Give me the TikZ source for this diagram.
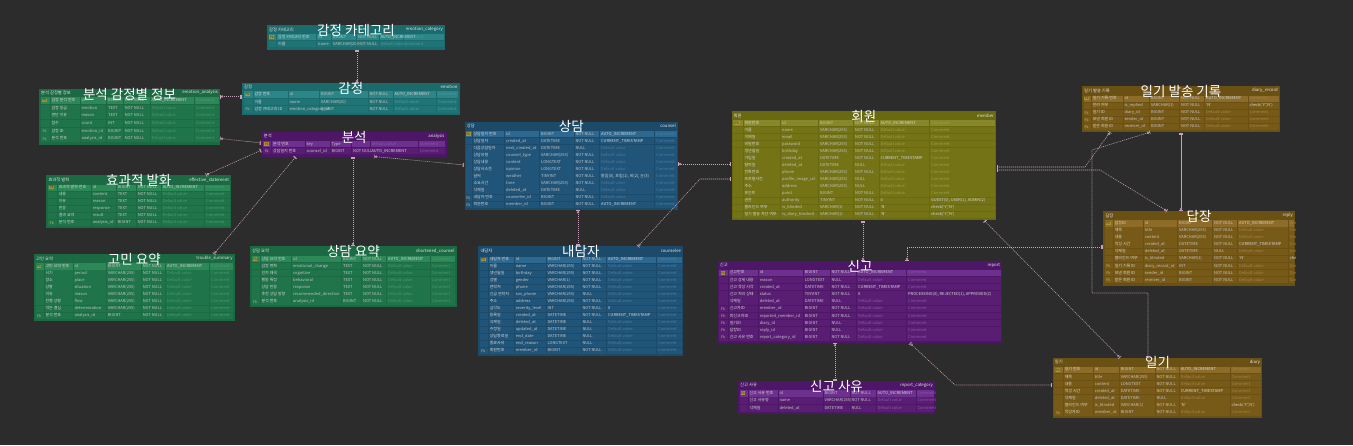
\documentclass[tikz,border=0pt]{standalone}
\usepackage{fontspec}
\setmainfont{Noto Sans CJK KR}
\usetikzlibrary{arrows.meta}
\definecolor{bgc}{HTML}{2C2C2C}
\definecolor{relc}{HTML}{C9A2BC}
\definecolor{hdrtext}{HTML}{E6E6E6}
\definecolor{celltext}{HTML}{D6D6D6}
\definecolor{celltext2}{HTML}{C4C4C4}
\definecolor{pkfill}{HTML}{A89434}
\definecolor{pktext}{HTML}{3A3410}
\definecolor{fktext}{HTML}{C8B878}
\definecolor{tealbase}{HTML}{1B6A6C}\definecolor{tealrow}{HTML}{207476}\definecolor{tealpk}{HTML}{2C8687}\definecolor{tealdim}{HTML}{4C9C9D}
\definecolor{greenbase}{HTML}{1B6A43}\definecolor{greenrow}{HTML}{1F744A}\definecolor{greenpk}{HTML}{2D8858}\definecolor{greendim}{HTML}{4C9A70}
\definecolor{bluebase}{HTML}{1C4A6A}\definecolor{bluerow}{HTML}{215479}\definecolor{bluepk}{HTML}{2D6890}\definecolor{bluedim}{HTML}{4C7EA2}
\definecolor{purpbase}{HTML}{4D1667}\definecolor{purprow}{HTML}{591E74}\definecolor{purppk}{HTML}{6E308E}\definecolor{purpdim}{HTML}{8A58A6}
\definecolor{olivebase}{HTML}{696912}\definecolor{oliverow}{HTML}{747417}\definecolor{olivepk}{HTML}{88882A}\definecolor{olivedim}{HTML}{9E9E44}
\definecolor{brownbase}{HTML}{6B5014}\definecolor{brownrow}{HTML}{785A18}\definecolor{brownpk}{HTML}{8C6C28}\definecolor{browndim}{HTML}{A4844A}
\tikzset{
  tbl/.style={inner sep=0, outer sep=0, draw=none},
  hdr/.style={inner sep=0, font=\fontsize{4.3}{5}\selectfont, text=hdrtext},
  ct/.style={inner sep=0, font=\fontsize{4}{4.5}\selectfont, text=celltext, anchor=west, text height=3pt, text depth=0.8pt},
  ttl/.style={inner sep=0, font=\fontsize{13.5}{15}\selectfont, text=white},
  pkb/.style={inner sep=0.5pt, fill=pkfill, text=pktext, font=\fontsize{3.2}{3.5}\selectfont},
  fkt/.style={inner sep=0, text=fktext, font=\fontsize{3.5}{4}\selectfont},
  rel/.style={draw=relc, line width=0.55pt, dash pattern=on 1.1pt off 0.9pt,
    {Bar[width=4pt,sep=0.8pt]Bar[width=4pt]}-{Circle[length=2.4pt,width=2.4pt,fill=bgc,sep=0.4pt]Bar[width=4pt]}},
}
\def\PkStr{Pk}\def\FkStr{Fk}\def\dStr{d}\def\cStr{c}
\newcommand\tabset[6]{\def\TX{#1}\def\TY{#2}\def\TR{#3}\def\HH{#4}\def\RH{#5}\def\NR{#6}}
\newcommand\setcols[6]{\def\CA{#1}\def\CB{#2}\def\CC{#3}\def\CD{#4}\def\CE{#5}\def\CF{#6}}
\newcommand\ertable[6]{%
  \pgfmathsetmacro\TWd{\TR-\TX}%
  \pgfmathsetmacro\THt{\HH+\NR*\RH+2}%
  \node[tbl, fill=#2base, minimum width=\TWd pt, minimum height=\THt pt, anchor=north west] (#1) at (\TX,\TY) {};
  \begin{scope}
  \clip (\TX,\TY) rectangle (\TR,\TY+\THt);
  \node[hdr, anchor=west] (#1-lbl) at (\TX+2,\TY+\HH/2) {#3};
  \node[hdr, anchor=east] (#1-phys) at (\TR-2,\TY+\HH/2) {#5};
  \foreach \vk/\vl/\vp/\vt/\vn/\vd/\vc [count=\ri] in {#6}{%
    \pgfmathsetmacro\rowy{\TY+\HH+(\ri-1)*\RH}%
    \pgfmathsetmacro\rowb{\rowy+\RH}%
    \pgfmathsetmacro\rowm{\rowy+\RH/2}%
    \ifx\vk\PkStr\def\rowcol{#2pk}\else\def\rowcol{#2row}\fi
    \fill[fill=\rowcol] (\TX+1.5,\rowy+0.35) rectangle (\TR-1.5,\rowb-0.35);
    \foreach \cx in {\CA,\CB,\CC,\CD,\CE,\CF}{\draw[draw=#2base, line width=0.5pt] (\cx,\rowy) -- (\cx,\rowb);}
    \ifx\vk\PkStr\node[pkb] (#1-\ri-k) at ({(\TX+\CA)/2},\rowm) {Pk};\fi
    \ifx\vk\FkStr\node[fkt] (#1-\ri-k) at ({(\TX+\CA)/2},\rowm) {Fk};\fi
    \node[ct] (#1-\ri-l) at (\CA+1.3,\rowm) {\vl};
    \node[ct, text=celltext2] (#1-\ri-p) at (\CB+1.3,\rowm) {\vp};
    \node[ct, text=celltext2] (#1-\ri-t) at (\CC+1.3,\rowm) {\vt};
    \node[ct, text=celltext2] (#1-\ri-n) at (\CD+1.3,\rowm) {\vn};
    \ifx\vd\dStr\node[ct, text=#2dim] (#1-\ri-d) at (\CE+1.3,\rowm) {Default value};\else\node[ct] (#1-\ri-d) at (\CE+1.3,\rowm) {\vd};\fi
    \ifx\vc\cStr\node[ct, text=#2dim] (#1-\ri-c) at (\CF+1.3,\rowm) {Comment};\else\node[ct] (#1-\ri-c) at (\CF+1.3,\rowm) {\vc};\fi
  }
  \end{scope}
  \node[ttl] (#1-title) at ({(\TX+\TR)/2},\TY+5) {#4};
}
\begin{document}
\begin{tikzpicture}[x=1pt,y=-1pt]
\useasboundingbox (0,0) rectangle (1353,445);
\fill[bgc] (0,0) rectangle (1353,445);
% emotion_category
\tabset{267}{25.3}{445}{8.3}{7}{2}
\setcols{276.7}{316.7}{331.7}{356.7}{379}{403.3}
\ertable{emocat}{teal}{감정 카테고리}{감정 카테고리}{emotion\_category}{%
Pk/감정 카테고리 번호/id/BIGINT/NOT NULL/AUTO\_INCREMENT/c,%
-/이름/name/VARCHAR(20)/NOT NULL/d/c}
% emotion_analysis
\tabset{39}{89}{220}{7.5}{7.7}{6}
\setcols{50}{80}{106.7}{123.3}{150}{194.3}
\ertable{emoan}{green}{분석 감정별 정보}{분석 감정별 정보}{emotion\_analysis}{%
Pk/감정 분석 번호/id/BIGINT/NOT NULL/AUTO\_INCREMENT/c,%
-/감정 등급/emotion/TEXT/NOT NULL/d/c,%
-/판단 이유/reason/TEXT/NOT NULL/d/c,%
-/점수/count/INT/NOT NULL/d/c,%
Fk/감정 ID/emotion\_id/BIGINT/NOT NULL/d/c,%
Fk/분석 번호/analysis\_id/BIGINT/NOT NULL/d/c}
% emotion
\tabset{242}{83}{459.7}{8}{7.3}{3}
\setcols{253}{288}{319.7}{368}{393}{436.3}
\ertable{emo}{teal}{감정}{감정}{emotion}{%
Pk/감정 번호/id/BIGINT/NOT NULL/AUTO\_INCREMENT/c,%
-/이름/name/VARCHAR(20)/NOT NULL/d/c,%
Fk/감정 카테고리 ID/emotion\_category\_id/BIGINT/NOT NULL/d/c}
% analysis
\tabset{261.7}{132}{446.7}{8.5}{7}{2}
\setcols{271.7}{305}{330}{351.7}{370}{418.3}
\ertable{ana}{purp}{분석}{분석}{analysis}{%
Pk/분석 번호/key/Type/{}/d/c,%
Fk/상담일지 번호/counsel\_id/BIGINT/NOT NULL/AUTO\_INCREMENT/c}
% counsel
\tabset{464.7}{121.7}{678}{9}{7.05}{11}
\setcols{472}{504.7}{539.7}{574}{599.7}{654.7}
\ertable{counsel}{blue}{상담}{상담}{counsel}{%
Pk/상담일지 번호/id/BIGINT/NOT NULL/AUTO\_INCREMENT/c,%
-/상담일자/created\_at/DATETIME/NOT NULL/CURRENT\_TIMESTAMP/c,%
-/다음상담일자/next\_created\_at/DATETIME/NULL/d/c,%
-/상담유형/counsel\_type/VARCHAR(255)/NOT NULL/d/c,%
-/상담내용/content/LONGTEXT/NOT NULL/d/c,%
-/상담사소견/opinion/LONGTEXT/NOT NULL/d/c,%
-/날씨/weather/TINYINT/NOT NULL/{맑음(0), 흐림(1), 비(2), 눈(3)}/c,%
-/소요시간/time/VARCHAR(255)/NOT NULL/d/c,%
-/삭제일/deleted\_at/DATETIME/NULL/d/c,%
Fk/내담자 번호/counselee\_id/BIGINT/NOT NULL/d/c,%
Fk/회원번호/member\_id/BIGINT/NOT NULL/AUTO\_INCREMENT/c}
% member
\tabset{731.5}{111.3}{996}{8.3}{7.05}{14}
\setcols{743}{780.7}{818.7}{853.7}{879}{929.7}
\ertable{member}{olive}{회원}{회원}{member}{%
Pk/회원번호/id/BIGINT/NOT NULL/AUTO\_INCREMENT/c,%
-/이름/name/VARCHAR(255)/NOT NULL/d/c,%
-/이메일/email/VARCHAR(255)/NOT NULL/d/c,%
-/비밀번호/password/VARCHAR(255)/NOT NULL/d/c,%
-/생년월일/birthday/VARCHAR(255)/NOT NULL/d/c,%
-/가입일/created\_at/DATETIME/NOT NULL/CURRENT\_TIMESTAMP/c,%
-/탈퇴일/deleted\_at/DATETIME/NULL/d/c,%
-/전화번호/phone/VARCHAR(255)/NOT NULL/d/c,%
-/프로필사진/profile\_image\_url/VARCHAR(255)/NULL/d/c,%
-/주소/address/VARCHAR(255)/NULL/d/c,%
-/포인트/point/BIGINT/NOT NULL/d/c,%
-/권한/authority/TINYINT/NOT NULL/0/{GUEST(0), USER(1), ADMIN(2)},%
-/블라인드 여부/is\_blinded/VARCHAR(1)/NOT NULL/'N'/{check('Y','N')},%
-/일기 발송 차단 여부/is\_diary\_blocked/VARCHAR(1)/NOT NULL/'N'/{check('Y','N')}}
% diary_record
\tabset{1082}{86.3}{1280}{8.9}{7}{5}
\setcols{1091.3}{1123}{1149.7}{1179.7}{1204.7}{1248}
\ertable{drec}{brown}{일기 발송 기록}{일기 발송 기록}{diary\_record}{%
Pk/일기 기록 번호/id/BIGINT/NOT NULL/AUTO\_INCREMENT/c,%
-/반려 여부/is\_replied/VARCHAR(1)/NOT NULL/'N'/{check('Y','N')},%
Fk/일기 ID/diary\_id/BIGINT/NOT NULL/d/c,%
Fk/보낸 회원 ID/sender\_id/BIGINT/NOT NULL/d/c,%
Fk/받은 회원 ID/receiver\_id/BIGINT/NOT NULL/d/c}
% effective_statement
\tabset{46.3}{175}{231.3}{9.2}{7}{6}
\setcols{57.3}{91.3}{116.3}{136.3}{161.3}{204.7}
\ertable{effst}{green}{효과적 발화}{효과적 발화}{effective\_statement}{%
Pk/효과적 발화 번호/id/BIGINT/NOT NULL/AUTO\_INCREMENT/c,%
-/내용/content/TEXT/NOT NULL/d/c,%
-/이유/reason/TEXT/NOT NULL/d/c,%
-/반응/response/TEXT/NOT NULL/d/c,%
-/결과 요약/result/TEXT/NOT NULL/d/c,%
Fk/분석 번호/analysis\_id/BIGINT/NOT NULL/d/c}
% trouble_summary
\tabset{34}{254}{234.7}{8.8}{7.06}{8}
\setcols{44}{73}{106.3}{141.3}{165.7}{209.7}
\ertable{trsum}{green}{고민 요약}{고민 요약}{trouble\_summary}{%
Pk/고민 요약 번호/id/BIGINT/NOT NULL/AUTO\_INCREMENT/c,%
-/시기/period/VARCHAR(255)/NOT NULL/d/c,%
-/장소/place/VARCHAR(255)/NOT NULL/d/c,%
-/상황/situation/VARCHAR(255)/NOT NULL/d/c,%
-/이유/reason/VARCHAR(255)/NOT NULL/d/c,%
-/진행 상황/flow/VARCHAR(255)/NOT NULL/d/c,%
-/작은 결심/determination/VARCHAR(255)/NOT NULL/d/c,%
Fk/분석 번호/analysis\_id/BIGINT/NOT NULL/d/c}
% shortened_counsel
\tabset{250}{246}{456.7}{9.5}{7.1}{7}
\setcols{260}{291.7}{341.7}{361.7}{386.7}{430}
\ertable{shcoun}{green}{상담 요약}{상담 요약}{shortened\_counsel}{%
Pk/상담 요약 번호/id/BIGINT/NOT NULL/AUTO\_INCREMENT/c,%
-/감정 변화/emotional\_change/TEXT/NOT NULL/d/c,%
-/인지 왜곡/cognitive/TEXT/NOT NULL/d/c,%
-/행동 특징/behavioral/TEXT/NOT NULL/d/c,%
-/상담 반응/response/TEXT/NOT NULL/d/c,%
-/추천 상담 방향/recommended\_direction/TEXT/NOT NULL/d/c,%
Fk/분석 번호/analysis\_id/BIGINT/NOT NULL/d/c}
% counselee
\tabset{478.3}{246.3}{683.3}{9.9}{7}{14}
\setcols{488.3}{514.3}{546}{581}{606.7}{656.7}
\ertable{counselee}{blue}{내담자}{내담자}{counselee}{%
Pk/내담자 번호/id/BIGINT/NOT NULL/AUTO\_INCREMENT/c,%
-/이름/name/VARCHAR(255)/NOT NULL/d/c,%
-/생년월일/birthday/VARCHAR(255)/NOT NULL/d/c,%
-/성별/gender/VARCHAR(1)/NOT NULL/d/c,%
-/연락처/phone/VARCHAR(255)/NOT NULL/d/c,%
-/긴급 연락처/sos\_phone/VARCHAR(255)/NULL/d/c,%
-/주소/address/VARCHAR(255)/NOT NULL/d/c,%
-/심각도/severity\_level/INT/NOT NULL/0/c,%
-/등록일/created\_at/DATETIME/NOT NULL/CURRENT\_TIMESTAMP/c,%
-/삭제일/deleted\_at/DATETIME/NULL/d/c,%
-/수정일/updated\_at/DATETIME/NULL/d/c,%
-/상담종료일/end\_date/DATETIME/NULL/d/c,%
-/종료사유/end\_reason/LONGTEXT/NULL/d/c,%
Fk/회원번호/member\_id/BIGINT/NOT NULL/d/c}
% report
\tabset{717.7}{261}{1002.3}{8.2}{7.2}{10}
\setcols{728.3}{758.3}{803.3}{830}{856.7}{906.7}
\ertable{report}{purp}{신고}{신고}{report}{%
Pk/신고번호/id/BIGINT/NOT NULL/AUTO\_INCREMENT/c,%
-/신고 상세 내용/reason/LONGTEXT/NULL/d/c,%
-/신고 작성 시각/created\_at/DATETIME/NOT NULL/CURRENT\_TIMESTAMP/c,%
-/신고 처리 상태/status/TINYINT/NOT NULL/0/{PROCESSING(0), REJECTED(1), APPROVED(2)},%
-/삭제일/deleted\_at/DATETIME/NULL/d/c,%
Fk/신고자ID/member\_id/BIGINT/NOT NULL/d/c,%
Fk/피신고자ID/reported\_member\_id/BIGINT/NOT NULL/d/c,%
Fk/일기ID/diary\_id/BIGINT/NULL/d/c,%
Fk/답장ID/reply\_id/BIGINT/NULL/d/c,%
Fk/신고 사유 번호/report\_category\_id/BIGINT/NOT NULL/d/c}
% report_category
\tabset{738}{381}{935}{8.5}{7.5}{3}
\setcols{748}{778}{823}{850}{876}{916}
\ertable{repcat}{purp}{신고 사유}{신고 사유}{report\_category}{%
Pk/신고 사유 번호/id/BIGINT/NOT NULL/AUTO\_INCREMENT/c,%
-/신고 사유명/name/VARCHAR(255)/NOT NULL/d/c,%
-/삭제일/deleted\_at/DATETIME/NULL/d/c}
% reply
\tabset{1103.3}{211}{1295}{8.8}{7.1}{9}
\setcols{1113.3}{1143.3}{1177.7}{1212.7}{1237.7}{1288.3}
\ertable{reply}{brown}{답장}{답장}{reply}{%
Pk/답장ID/id/BIGINT/NOT NULL/AUTO\_INCREMENT/c,%
-/제목/title/VARCHAR(255)/NOT NULL/d/c,%
-/내용/content/VARCHAR(255)/NOT NULL/d/c,%
-/작성 시간/created\_at/DATETIME/NOT NULL/CURRENT\_TIMESTAMP/c,%
-/삭제일/deleted\_at/DATETIME/NULL/d/c,%
-/블라인드 여부/is\_blinded/VARCHAR(1)/NOT NULL/'N'/{check('Y','N')},%
Fk/일기 기록 ID/diary\_record\_id/INT/NOT NULL/d/c,%
Fk/보낸 회원 ID/sender\_id/BIGINT/NOT NULL/d/c,%
Fk/받은 회원 ID/receiver\_id/BIGINT/NOT NULL/d/c}
% diary
\tabset{1052.7}{357.7}{1262.3}{8.5}{7.15}{7}
\setcols{1063.3}{1093.3}{1119.3}{1155}{1179.3}{1230}
\ertable{diary}{brown}{일기}{일기}{diary}{%
Pk/일기 번호/id/BIGINT/NOT NULL/AUTO\_INCREMENT/c,%
-/제목/title/VARCHAR(255)/NOT NULL/d/c,%
-/내용/content/LONGTEXT/NOT NULL/d/c,%
-/작성 시간/created\_at/DATETIME/NOT NULL/CURRENT\_TIMESTAMP/c,%
-/삭제일/deleted\_at/DATETIME/NULL/d/c,%
-/블라인드 여부/is\_blinded/VARCHAR(1)/NOT NULL/'N'/{check('Y','N')},%
Fk/작성자ID/member\_id/BIGINT/NOT NULL/d/c}
% relations
\draw[rel] (emocat.south -| 357,0) -- (emo.north -| 357,0);
\draw[rel] (emo.west |- 0,96.5) -- (emoan.east |- 0,96.5);
\draw[rel] (ana.west |- 0,143) -- (emoan.east |- 0,138.5);
\draw[rel] (ana.west |- 0,150) -- (effst.north -| 206,0);
\draw[rel] (ana.south -| 296,0) -- (trsum.north -| 214,0);
\draw[rel] (ana.south -| 353,0) -- (shcoun.north -| 353,0);
\draw[rel] (counsel.west |- 0,165) -- (ana.south -| 374,0);
\draw[rel] (counselee.north -| 578,0) -- (counsel.south -| 578,0);
\draw[rel] (member.west |- 0,164) -- (counsel.east |- 0,164);
\draw[rel] (member.west |- 0,179) -- (700,179) -- (counselee.north -| 638,0);
\draw[rel] (member.south -| 863,0) -- (report.north -| 863,0);
\draw[rel] (reply.west |- 0,247) -- (907,247) -- (report.north -| 907,0);
\draw[rel] (repcat.north -| 835,0) -- (report.south -| 835,0);
\draw[rel] (diary.west |- 0,385) -- (955,385) -- (report.south -| 910,0);
\draw[rel] (member.south -| 984,0) -- (diary.north -| 1120,0);
\draw[rel] (diary.north -| 1148,0) -- (1148,293) -- (1092,293) -- (1092,150) -- (drec.south -| 1150,0);
\draw[rel] (member.east |- 0,167) -- (1085,167) -- (drec.south -| 1110,0);
\draw[rel] (drec.south -| 1181,0) -- (reply.north -| 1181,0);
\draw[rel] (member.east |- 0,170) -- (1100,170) -- (reply.north -| 1167,0);
\end{tikzpicture}
\end{document}
